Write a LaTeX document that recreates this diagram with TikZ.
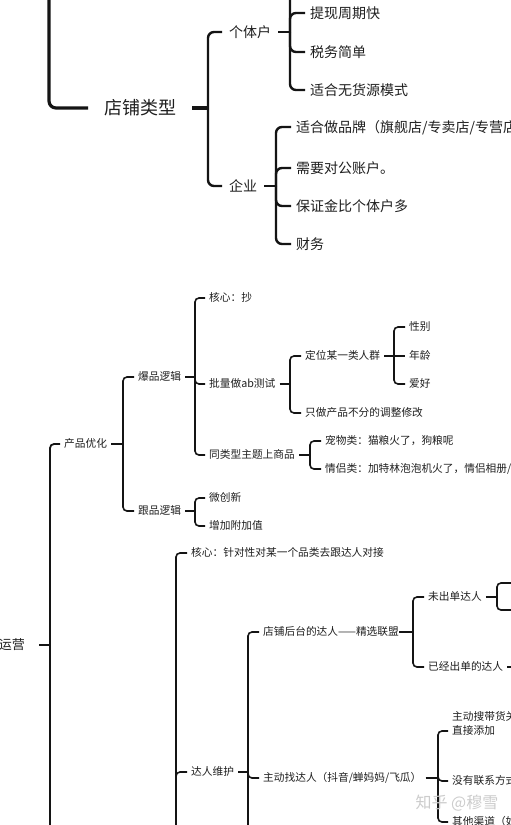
\documentclass[tikz,border=0pt]{standalone}
\usepackage{fontspec}
\newfontfamily\cjk{Noto Sans CJK SC}
\usepackage{tikz}

\begin{document}
\begin{tikzpicture}[x=1pt, y=-1pt,
  topic/.style={anchor=west, inner ysep=0pt, text=black!88},
  big/.style={topic, font=\cjk\fontsize{18}{20}\selectfont, inner xsep=16pt,
              text height=15pt, text depth=2pt},
  mid/.style={topic, font=\cjk\fontsize{14}{16}\selectfont, inner xsep=7pt,
              text height=11.7pt, text depth=1.6pt},
  leaf/.style={mid, inner xsep=5pt},
  root/.style={topic, anchor=east, font=\cjk\fontsize{13}{15}\selectfont,
               inner xsep=14pt, text height=10.9pt, text depth=1.5pt},
  sm/.style={topic, font=\cjk\fontsize{10.7}{14}\selectfont, inner xsep=4pt,
             text height=9pt, text depth=1.3pt},
  thk/.style={draw=black!92, line width=3.2pt, rounded corners=7pt},
  mdl/.style={draw=black!92, line width=2.4pt, rounded corners=6pt},
  thn/.style={draw=black!92, line width=1.6pt, rounded corners=4pt}]
\useasboundingbox (0,0) rectangle (511,825);
\clip (0,0) rectangle (511,825);
\fill[white] (0,0) rectangle (511,825);

% upper map
\coordinate (topbus) at (49,-30);
\node[big] (dplx) at (88,108) {店铺类型};
\coordinate (dpbus) at (208,108);
\node[mid] (gth) at (222,32) {个体户};
\node[mid] (qy) at (222,186) {企业};
\coordinate (gtbus) at (290,32);
\coordinate (g0) at (305,-26);
\node[leaf] (g1) at (305,13) {提现周期快};
\node[leaf] (g2) at (305,52) {税务简单};
\node[leaf] (g3) at (305,90) {适合无货源模式};
\coordinate (qybus) at (276,186);
\node[leaf] (q1) at (291,127) {适合做品牌（旗舰店/专卖店/专营店};
\node[leaf] (q2) at (291,168) {需要对公账户。};
\node[leaf] (q3) at (291,206) {保证金比个体户多};
\node[leaf] (q4) at (291,244) {财务};

\draw[thk] (topbus) |- (dplx.west);
\draw[thk] (dplx.east) -- (dpbus);
\foreach \c in {gth,qy} \draw[mdl] (dpbus) |- (\c.west);
\draw[mdl] (gth.east) -- (gtbus);
\draw[mdl] (gtbus) |- (g0);
\foreach \c in {g1,g2,g3} \draw[mdl] (gtbus) |- (\c.west);
\draw[mdl] (qy.east) -- (qybus);
\foreach \c in {q1,q2,q3,q4} \draw[mdl] (qybus) |- (\c.west);

% lower map
\node[root] (yy) at (39,645) {运营};
\coordinate (yybus) at (50,645);
\coordinate (yyb) at (60,900);
\node[sm] (cpyh) at (60,444) {产品优化};
\coordinate (cpbus) at (123,444);
\node[sm] (bp) at (134,377) {爆品逻辑};
\node[sm] (gp) at (134,511) {跟品逻辑};
\coordinate (bpbus) at (195,377);
\node[sm] (hx) at (205,298) {核心：抄};
\node[sm] (ab) at (205,384) {批量做ab测试};
\node[sm] (tl) at (205,455) {同类型主题上商品};
\coordinate (abbus) at (290,384);
\node[sm] (dw) at (301,356) {定位某一类人群};
\node[sm] (zz) at (301,413) {只做产品不分的调整修改};
\coordinate (dwbus) at (394,356);
\node[sm] (xb) at (405,327) {性别};
\node[sm] (nl) at (405,356) {年龄};
\node[sm] (ah) at (405,384) {爱好};
\coordinate (tlbus) at (310,455);
\node[sm] (cw) at (321,441) {宠物类：猫粮火了，狗粮呢};
\node[sm] (ql) at (321,469) {情侣类：加特林泡泡机火了，情侣相册/};
\coordinate (gpbus) at (195,511);
\node[sm] (wcx) at (205,498) {微创新};
\node[sm] (zj) at (205,526) {增加附加值};

\coordinate (drbus) at (176,900);
\node[sm] (hx2) at (187,553) {核心：针对性对某一个品类去跟达人对接};
\node[sm] (drwh) at (187,772) {达人维护};
\coordinate (drwbus) at (248,772);
\node[sm] (jx) at (259,632) {店铺后台的达人——精选联盟};
\node[sm] (zd) at (259,778) {主动找达人（抖音/蝉妈妈/飞瓜）};
\coordinate (drw3) at (259,912);
\coordinate (jxbus) at (413,632);
\node[sm] (wcd) at (424,597) {未出单达人};
\node[sm] (ycd) at (424,667) {已经出单的达人};
\coordinate (wcbus) at (497,597);
\coordinate (wc1) at (515,583);
\coordinate (wc2) at (515,610);
\coordinate (ycs) at (515,667);
\coordinate (zdbus) at (438,778);
\node[sm, align=left] (zs) at (448,731) {主动搜带货关\\直接添加};
\node[sm] (my) at (448,781) {没有联系方式};
\node[sm] (qt) at (448,822) {其他渠道（如};

\draw[thn, line width=1.8pt] (yy.east) -- (yybus);
\draw[thn, line width=1.8pt] (yybus) |- (cpyh.west);
\draw[thn, line width=1.8pt] (yybus) |- (yyb);
\draw[thn] (cpyh.east) -- (cpbus);
\foreach \c in {bp,gp} \draw[thn] (cpbus) |- (\c.west);
\draw[thn] (bp.east) -- (bpbus);
\foreach \c in {hx,ab,tl} \draw[thn] (bpbus) |- (\c.west);
\draw[thn] (ab.east) -- (abbus);
\foreach \c in {dw,zz} \draw[thn] (abbus) |- (\c.west);
\draw[thn] (dw.east) -- (dwbus) -- (nl.west);
\foreach \c in {xb,ah} \draw[thn] (dwbus) |- (\c.west);
\draw[thn] (tl.east) -- (tlbus);
\foreach \c in {cw,ql} \draw[thn] (tlbus) |- (\c.west);
\draw[thn] (gp.east) -- (gpbus);
\foreach \c in {wcx,zj} \draw[thn] (gpbus) |- (\c.west);

\foreach \c in {hx2,drwh} \draw[thn] (drbus) |- (\c.west);
\draw[thn] (drwh.east) -- (drwbus);
\foreach \c in {jx,zd} \draw[thn] (drwbus) |- (\c.west);
\draw[thn] (drwbus) |- (drw3);
\draw[thn] ([xshift=-4pt]jx.east) -- (jxbus);
\foreach \c in {wcd,ycd} \draw[thn] (jxbus) |- (\c.west);
\draw[thn] (wcd.east) -- (wcbus);
\draw[thn] (wcbus) |- (wc1);
\draw[thn] (wcbus) |- (wc2);
\draw[thn] (ycd.east) -- (ycs);
\draw[thn] (zd.east) -- (zdbus);
\foreach \c in {zs,my,qt} \draw[thn] (zdbus) |- (\c.west);

\node[font=\cjk\fontsize{16}{16}\selectfont, text=black!20] (wm) at (457,803) {知乎 @穆雪};
\end{tikzpicture}
\end{document}
